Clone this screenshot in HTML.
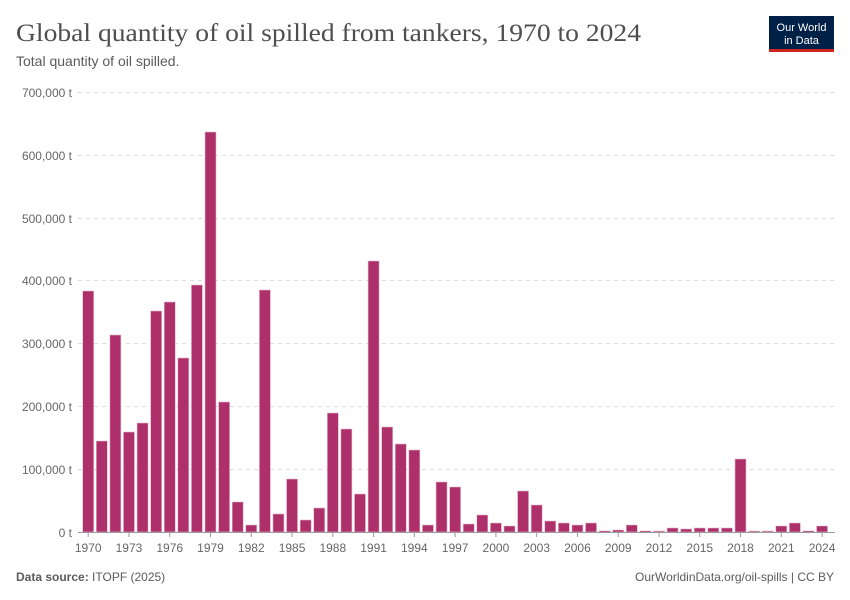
<!DOCTYPE html>
<html><head><meta charset="utf-8"><style>
body{margin:0;background:#fff;}
svg{display:block;font-family:"Liberation Sans",sans-serif;}
</style></head><body>
<svg width="850" height="600" xmlns="http://www.w3.org/2000/svg">
<text x="16" y="41" font-family="Liberation Serif,serif" font-size="25" fill="#4e4e4e" textLength="625" lengthAdjust="spacingAndGlyphs">Global quantity of oil spilled from tankers, 1970 to 2024</text>
<text x="16" y="66" font-size="14" fill="#5b5b5b">Total quantity of oil spilled.</text>
<rect x="769" y="16" width="65" height="36" fill="#002147"/>
<rect x="769" y="49" width="65" height="3" fill="#ce261e"/>
<text x="801.5" y="31" font-size="11" fill="#fff" text-anchor="middle">Our World</text>
<text x="801.5" y="44" font-size="11" fill="#fff" text-anchor="middle">in Data</text>
<g stroke="#ddd" stroke-dasharray="4,4">
<line x1="78" x2="835" y1="92.5" y2="92.5"/><line x1="78" x2="835" y1="155.5" y2="155.5"/>
<line x1="78" x2="835" y1="218.5" y2="218.5"/><line x1="78" x2="835" y1="280.5" y2="280.5"/>
<line x1="78" x2="835" y1="343.5" y2="343.5"/><line x1="78" x2="835" y1="406.5" y2="406.5"/>
<line x1="78" x2="835" y1="469.5" y2="469.5"/>
</g>
<g font-size="12" fill="#666" text-anchor="end">
<text x="72" y="97">700,000 t</text><text x="72" y="160">600,000 t</text><text x="72" y="223">500,000 t</text>
<text x="72" y="285">400,000 t</text><text x="72" y="348">300,000 t</text><text x="72" y="411">200,000 t</text>
<text x="72" y="474">100,000 t</text><text x="72" y="537">0 t</text>
</g>
<g fill="#ad306a" stroke="#e7b7cc" stroke-width="0.6">
<rect x="82.7" y="291" width="11" height="241"/>
<rect x="96.29" y="441" width="11" height="91"/>
<rect x="109.88" y="335" width="11" height="197"/>
<rect x="123.47" y="432" width="11" height="100"/>
<rect x="137.06" y="423" width="11" height="109"/>
<rect x="150.65" y="311" width="11" height="221"/>
<rect x="164.24" y="302" width="11" height="230"/>
<rect x="177.83" y="358" width="11" height="174"/>
<rect x="191.42" y="285" width="11" height="247"/>
<rect x="205.01" y="132" width="11" height="400"/>
<rect x="218.6" y="402" width="11" height="130"/>
<rect x="232.19" y="502" width="11" height="30"/>
<rect x="245.78" y="525" width="11" height="7"/>
<rect x="259.37" y="290" width="11" height="242"/>
<rect x="272.96" y="514" width="11" height="18"/>
<rect x="286.55" y="479" width="11" height="53"/>
<rect x="300.14" y="520" width="11" height="12"/>
<rect x="313.73" y="508" width="11" height="24"/>
<rect x="327.32" y="413" width="11" height="119"/>
<rect x="340.91" y="429" width="11" height="103"/>
<rect x="354.5" y="494" width="11" height="38"/>
<rect x="368.09" y="261" width="11" height="271"/>
<rect x="381.68" y="427" width="11" height="105"/>
<rect x="395.27" y="444" width="11" height="88"/>
<rect x="408.86" y="450" width="11" height="82"/>
<rect x="422.45" y="525" width="11" height="7"/>
<rect x="436.04" y="482" width="11" height="50"/>
<rect x="449.63" y="487" width="11" height="45"/>
<rect x="463.22" y="524" width="11" height="8"/>
<rect x="476.81" y="515" width="11" height="17"/>
<rect x="490.4" y="523" width="11" height="9"/>
<rect x="503.99" y="526" width="11" height="6"/>
<rect x="517.58" y="491" width="11" height="41"/>
<rect x="531.17" y="505" width="11" height="27"/>
<rect x="544.76" y="521" width="11" height="11"/>
<rect x="558.35" y="523" width="11" height="9"/>
<rect x="571.94" y="525" width="11" height="7"/>
<rect x="585.53" y="523" width="11" height="9"/>
<rect x="599.12" y="531" width="11" height="1.5"/>
<rect x="612.71" y="530" width="11" height="2"/>
<rect x="626.3" y="525" width="11" height="7"/>
<rect x="639.89" y="531" width="11" height="1.5"/>
<rect x="653.48" y="531" width="11" height="1"/>
<rect x="667.07" y="528" width="11" height="4"/>
<rect x="680.66" y="529" width="11" height="3"/>
<rect x="694.25" y="528" width="11" height="4"/>
<rect x="707.84" y="528" width="11" height="4"/>
<rect x="721.43" y="528" width="11" height="4"/>
<rect x="735.02" y="459" width="11" height="73"/>
<rect x="748.61" y="531" width="11" height="1"/>
<rect x="762.2" y="531" width="11" height="1"/>
<rect x="775.79" y="526" width="11" height="6"/>
<rect x="789.38" y="523" width="11" height="9"/>
<rect x="802.97" y="531" width="11" height="1.5"/>
<rect x="816.56" y="526" width="11" height="6"/>
</g>
<line x1="78" x2="835" y1="532.5" y2="532.5" stroke="#999"/>
<g stroke="#999">
<line x1="88.2" x2="88.2" y1="532" y2="537"/><line x1="128.97" x2="128.97" y1="532" y2="537"/>
<line x1="169.74" x2="169.74" y1="532" y2="537"/><line x1="210.51" x2="210.51" y1="532" y2="537"/>
<line x1="251.28" x2="251.28" y1="532" y2="537"/><line x1="292.05" x2="292.05" y1="532" y2="537"/>
<line x1="332.82" x2="332.82" y1="532" y2="537"/><line x1="373.59" x2="373.59" y1="532" y2="537"/>
<line x1="414.36" x2="414.36" y1="532" y2="537"/><line x1="455.13" x2="455.13" y1="532" y2="537"/>
<line x1="495.9" x2="495.9" y1="532" y2="537"/><line x1="536.67" x2="536.67" y1="532" y2="537"/>
<line x1="577.44" x2="577.44" y1="532" y2="537"/><line x1="618.21" x2="618.21" y1="532" y2="537"/>
<line x1="658.98" x2="658.98" y1="532" y2="537"/><line x1="699.75" x2="699.75" y1="532" y2="537"/>
<line x1="740.52" x2="740.52" y1="532" y2="537"/><line x1="781.29" x2="781.29" y1="532" y2="537"/>
<line x1="822.06" x2="822.06" y1="532" y2="537"/>
</g>
<g font-size="12" fill="#666" text-anchor="middle">
<text x="88.2" y="552">1970</text><text x="128.97" y="552">1973</text><text x="169.74" y="552">1976</text>
<text x="210.51" y="552">1979</text><text x="251.28" y="552">1982</text><text x="292.05" y="552">1985</text>
<text x="332.82" y="552">1988</text><text x="373.59" y="552">1991</text><text x="414.36" y="552">1994</text>
<text x="455.13" y="552">1997</text><text x="495.9" y="552">2000</text><text x="536.67" y="552">2003</text>
<text x="577.44" y="552">2006</text><text x="618.21" y="552">2009</text><text x="658.98" y="552">2012</text>
<text x="699.75" y="552">2015</text><text x="740.52" y="552">2018</text><text x="781.29" y="552">2021</text>
<text x="822.06" y="552">2024</text>
</g>
<text x="16" y="581" font-size="12" fill="#5b5b5b"><tspan font-weight="bold">Data source:</tspan> ITOPF (2025)</text>
<text x="834" y="581" font-size="12" fill="#5b5b5b" text-anchor="end">OurWorldinData.org/oil-spills | CC BY</text>
</svg>
</body></html>
